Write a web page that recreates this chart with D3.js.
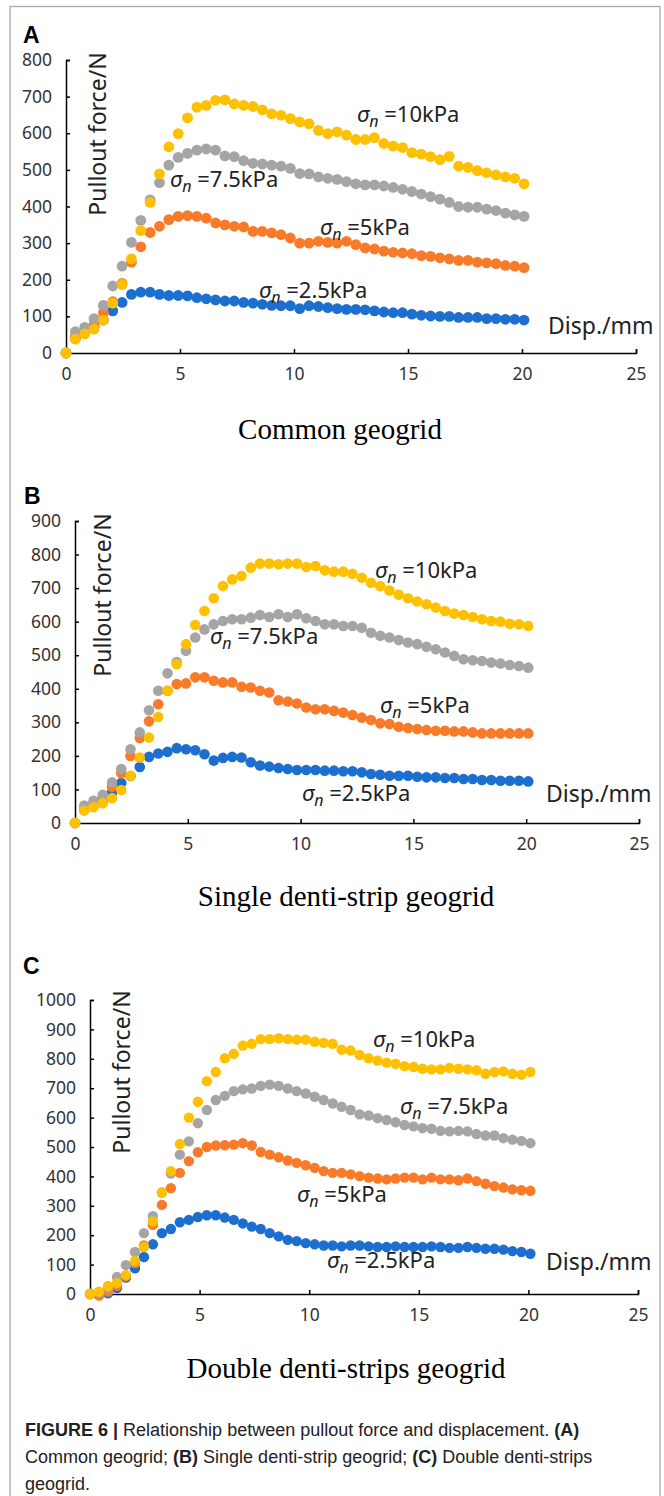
<!DOCTYPE html>
<html><head><meta charset="utf-8">
<script src="https://cdn.jsdelivr.net/npm/d3@7"></script>
<style>body{margin:0;background:#fff;} svg{display:block}</style>
</head><body>
<svg id="fig" width="664" height="1496"></svg>
<script>
// ---------- DATA ----------
const dispMM = [0,0.41,0.82,1.23,1.64,2.05,2.46,2.87,3.28,3.69,4.1,4.51,4.92,5.33,5.74,6.15,6.56,6.97,7.38,7.79,
  8.2,8.61,9.02,9.43,9.84,10.25,10.66,11.07,11.48,11.89,12.3,12.71,13.12,13.53,13.94,14.35,14.76,15.17,15.58,15.99,
  16.4,16.81,17.22,17.63,18.04,18.45,18.86,19.27,19.68,20.09];

const seriesLabels = ["2.5kPa","5kPa","7.5kPa","10kPa"];
const seriesColors = ["#1d6fcf","#f97b2a","#a5a5a5","#ffc000"];
const xTickValues = [0,5,10,15,20,25];
const yTicksA = [0,100,200,300,400,500,600,700,800];
const yTicksB = [0,100,200,300,400,500,600,700,800,900];
const yTicksC = [0,100,200,300,400,500,600,700,800,900,1000];

// (A) Common geogrid
const forceA_2p5 = [0,40,55,70,90,115,138,160,166,166,160,157,157,156,151,148,145,142,142,138,136,133,130,129,129,121,129,127,124,121,119,119,118,115,112,110,110,106,103,101,100,100,97,97,97,94,94,92,92,90];
const forceA_5 = [0,45,60,78,110,140,190,248,290,329,346,364,373,375,373,368,355,350,346,344,332,332,328,323,314,300,300,305,302,300,305,296,287,284,278,275,273,271,266,264,260,257,253,253,248,246,244,239,237,233];
const forceA_7p5 = [0,58,70,94,130,183,237,302,362,418,465,513,534,545,554,557,554,538,536,525,518,516,513,510,504,490,489,481,477,474,468,462,459,459,456,452,447,441,434,427,420,411,400,398,398,393,389,382,377,373];
const forceA_10 = [0,38,52,65,90,136,187,257,334,411,489,563,599,642,671,676,690,691,680,676,673,664,653,649,640,631,626,608,599,604,595,583,583,588,572,565,561,547,543,536,528,537,510,507,498,492,486,481,477,462];

// (B) Single denti-strip geogrid
const forceB_2p5 = [0,40,50,65,90,119,140,167,197,207,212,223,220,217,205,186,194,197,195,181,171,168,164,161,158,158,158,156,156,154,154,151,146,144,141,141,141,138,136,136,134,134,131,131,128,128,126,126,126,124];
const forceB_5 = [0,45,58,75,108,148,200,253,303,354,394,414,416,434,434,424,419,419,406,404,394,389,366,362,356,344,339,339,334,329,322,314,307,297,295,287,283,280,277,275,275,273,273,270,267,267,267,267,267,267];
const forceB_7p5 = [0,52,66,84,121,161,220,270,336,394,446,480,513,553,577,592,602,607,607,612,620,614,622,614,622,610,602,592,592,587,587,582,567,558,553,545,538,533,525,518,508,498,488,485,483,478,475,471,468,463];
const forceB_10 = [0,37,47,59,74,98,141,195,255,316,394,473,533,590,632,670,706,726,736,761,773,773,771,773,773,763,766,753,749,749,743,731,716,706,693,680,670,660,652,642,632,624,620,614,607,602,600,594,592,587];

// (C) Double denti-strips geogrid
const forceC_2p5 = [0,-3,2,20,56,87,126,169,207,221,244,252,262,268,268,260,252,240,229,221,207,196,184,180,173,169,165,165,162,165,165,162,160,160,162,160,160,160,162,160,157,157,160,157,154,154,151,146,143,137];
const forceC_5 = [0,-5,8,28,60,105,165,235,303,360,412,452,482,500,505,506,508,513,505,483,474,465,454,446,438,429,418,412,412,407,401,396,393,390,393,396,396,390,396,390,390,387,393,384,375,367,362,356,353,351];
const forceC_7p5 = [0,5,20,58,98,143,207,265,345,410,474,519,581,626,660,674,690,696,699,708,712,708,699,690,682,671,660,648,637,626,611,607,598,592,584,575,570,564,562,555,553,555,553,544,539,539,530,525,521,513];
const forceC_10 = [0,8,27,38,64,112,160,247,345,418,510,600,654,724,755,802,817,845,851,867,867,870,867,865,865,858,854,851,831,828,813,802,794,787,783,775,772,766,764,764,769,766,764,761,749,755,757,749,746,755];

const captionText = [
  [["FIGURE 6 | ",true],["Relationship between pullout force and displacement. ",false],["(A)",true]],
  [["Common geogrid; ",false],["(B)",true],[" Single denti-strip geogrid; ",false],["(C)",true],[" Double denti-strips",false]],
  [["geogrid.",false]]
];

// ---------- LAYOUT ----------
const panels = [
  {letter:"A", title:"Common geogrid", series:[forceA_2p5,forceA_5,forceA_7p5,forceA_10], yMax:800, yTicks:yTicksA,
   x0:66, x1:636, y0:353, yTop:60, letterXY:[23,43], titleXY:[340,439], yTitleXY:[106,134], r:5.4,
   labelXY:[[259,298],[320,235],[170,187],[357,122]], dispXY:[548,334]},
  {letter:"B", title:"Single denti-strip geogrid", series:[forceB_2p5,forceB_5,forceB_7p5,forceB_10], yMax:900, yTicks:yTicksB,
   x0:75, x1:639, y0:823, yTop:521, letterXY:[24,504], titleXY:[346,906], yTitleXY:[111,595], r:5.3,
   labelXY:[[302,801],[380,713],[210,644],[375,578]], dispXY:[546,802]},
  {letter:"C", title:"Double denti-strips geogrid", series:[forceC_2p5,forceC_5,forceC_7p5,forceC_10], yMax:1000, yTicks:yTicksC,
   x0:90, x1:638, y0:1294, yTop:1000, letterXY:[23,974], titleXY:[346,1378], yTitleXY:[130,1072], r:5.2,
   labelXY:[[327,1268],[297,1202],[400,1114],[373,1047]], dispXY:[546,1270]}
];

const svg = d3.select("#fig");
svg.append("rect").attr("x",0).attr("y",0).attr("width",664).attr("height",1496).attr("fill","#fff");
svg.append("rect").attr("x",10).attr("y",6.5).attr("width",650).attr("height",1500)
  .attr("fill","none").attr("stroke","#a8a8a8").attr("stroke-width",1.3);

const tickFont = "'Noto Sans', sans-serif";

panels.forEach(p => {
  const g = svg.append("g");
  const x = d3.scaleLinear().domain([0,25]).range([p.x0,p.x1]);
  const y = d3.scaleLinear().domain([0,p.yMax]).range([p.y0,p.yTop]);

  const gx = g.append("g").attr("transform",`translate(0,${p.y0})`)
    .call(d3.axisBottom(x).tickValues(xTickValues).tickSizeInner(-4).tickSizeOuter(-4).tickPadding(14.5));
  const gy = g.append("g").attr("transform",`translate(${p.x0},0)`)
    .call(d3.axisLeft(y).tickValues(p.yTicks).tickSizeInner(-4).tickSizeOuter(-4).tickPadding(14).tickFormat(d3.format("d")));
  [gx,gy].forEach(a=>{
    a.attr("font-family",tickFont).attr("font-size",17.5);
    a.selectAll("path,line").attr("stroke","#000").attr("stroke-width",1.5);
    a.selectAll("text").attr("fill","#333");
  });

  p.series.forEach((vals,si) => {
    g.append("g").selectAll("circle").data(vals.map((v,i)=>[dispMM[i],v])).join("circle")
      .attr("cx",d=>x(d[0])).attr("cy",d=>y(d[1])).attr("r",p.r)
      .attr("fill",seriesColors[si]);
  });

  p.labelXY.forEach((xy,si)=>{
    const t = g.append("text").attr("x",xy[0]).attr("y",xy[1])
      .attr("font-family",tickFont).attr("font-size",22).attr("fill","#222");
    t.append("tspan").attr("font-style","italic").text("σ");
    t.append("tspan").attr("font-style","italic").attr("font-size",16).attr("dy",5).text("n");
    t.append("tspan").attr("dy",-5).text(" =" + seriesLabels[si]);
  });

  g.append("text").attr("x",p.dispXY[0]).attr("y",p.dispXY[1])
    .attr("font-family",tickFont).attr("font-size",23).attr("fill","#222").text("Disp./mm");

  g.append("text").attr("transform",`translate(${p.yTitleXY[0]},${p.yTitleXY[1]}) rotate(-90)`)
    .attr("text-anchor","middle").attr("font-family",tickFont).attr("font-size",23).attr("fill","#222")
    .text("Pullout force/N");

  g.append("text").attr("x",p.letterXY[0]).attr("y",p.letterXY[1])
    .attr("font-family","'Liberation Sans', Arial, sans-serif").attr("font-weight","bold")
    .attr("font-size",23).attr("fill","#000").text(p.letter);

  g.append("text").attr("x",p.titleXY[0]).attr("y",p.titleXY[1]).attr("text-anchor","middle")
    .attr("font-family","'Liberation Serif', 'Times New Roman', serif").attr("font-size",29).attr("fill","#000")
    .text(p.title);
});

const capY = [1436,1463,1490];
captionText.forEach((line,li)=>{
  const t = svg.append("text").attr("x",25).attr("y",capY[li])
    .attr("font-family","'Liberation Sans', Arial, sans-serif").attr("font-size",18).attr("fill","#222");
  line.forEach(([s,b])=>{
    t.append("tspan").attr("font-weight",b?"bold":"normal").text(s);
  });
});
</script>
</body></html>
